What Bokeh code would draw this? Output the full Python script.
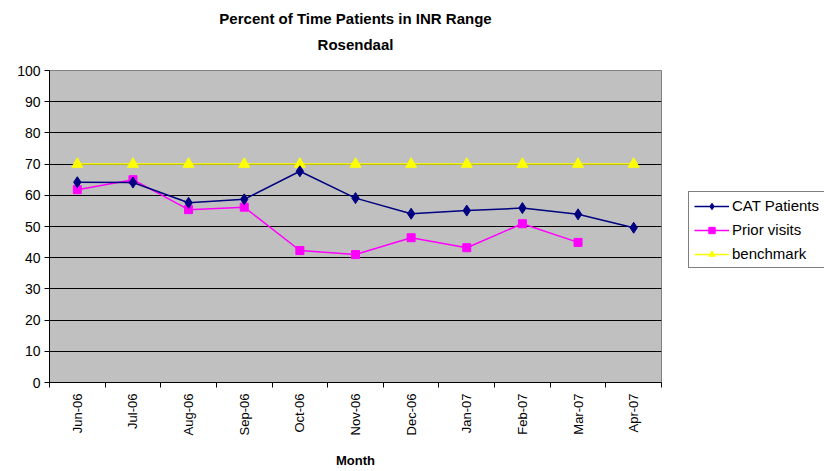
from bokeh.plotting import figure
from bokeh.models import (Range1d, FixedTicker, Legend, LegendItem, Title,
                          ColumnDataSource)
from bokeh.embed import file_html
from bokeh.resources import INLINE

months = ["Jun-06", "Jul-06", "Aug-06", "Sep-06", "Oct-06", "Nov-06",
          "Dec-06", "Jan-07", "Feb-07", "Mar-07", "Apr-07"]
cat_patients = [64.2, 64.1, 57.6, 58.7, 67.7, 59.1, 54.1, 55.1, 55.9, 53.9, 49.6]
prior_visits = [61.8, 65.0, 55.4, 56.2, 42.3, 41.0, 46.4, 43.2, 50.9, 44.9]
benchmark = [70, 70, 70, 70, 70, 70, 70, 70, 70, 70, 70]
y_ticks = [0, 10, 20, 30, 40, 50, 60, 70, 80, 90, 100]

FONT = "Liberation Sans"

xs = [i + 0.5 for i in range(len(months))]
bounds = [float(i) for i in range(len(months) + 1)]

p = figure(frame_width=612, frame_height=312, output_backend="svg",
           toolbar_location=None,
           x_range=Range1d(0, len(months)), y_range=Range1d(0, 100),
           min_border_left=49, min_border_right=163, min_border_top=70,
           min_border_bottom=89, title=None)

# spacer between frame and subtitle
p.add_layout(Title(text=" ", align="center", text_font=FONT,
                   text_font_size="14px", standoff=0), "above")
p.add_layout(Title(text="Rosendaal", align="center", text_font=FONT,
                   text_font_size="15px", text_font_style="bold",
                   text_color="black", standoff=0), "above")
p.add_layout(Title(text="Percent of Time Patients in INR Range", align="center",
                   text_font=FONT, text_font_size="15px", text_font_style="bold",
                   text_color="black", standoff=14), "above")

p.background_fill_color = "#C0C0C0"
p.border_fill_color = "white"
p.outline_line_color = "#808080"
p.outline_line_width = 1

# axes
p.xaxis.ticker = FixedTicker(ticks=xs, minor_ticks=bounds)
p.xaxis.major_label_overrides = {x: m for x, m in zip(xs, months)}
p.xaxis.major_label_orientation = 1.5708
p.xaxis.major_tick_line_color = None
p.xaxis.minor_tick_line_color = "black"
p.xaxis.minor_tick_in = 0
p.xaxis.minor_tick_out = 5
p.xaxis.axis_line_color = "black"
p.xaxis.major_label_text_font = FONT
p.xaxis.major_label_text_font_size = "13px"
p.xaxis.major_label_text_color = "black"
p.xaxis.major_label_standoff = 5
p.xaxis.axis_label = "Month"
p.xaxis.axis_label_text_font = FONT
p.xaxis.axis_label_text_font_size = "13px"
p.xaxis.axis_label_text_font_style = "bold"
p.xaxis.axis_label_text_color = "black"
p.xaxis.axis_label_standoff = 15

p.yaxis.ticker = FixedTicker(ticks=y_ticks)
p.yaxis.major_tick_in = 0
p.yaxis.major_tick_out = 5
p.yaxis.minor_tick_line_color = None
p.yaxis.axis_line_color = "black"
p.yaxis.major_label_text_font = FONT
p.yaxis.major_label_text_font_size = "14px"
p.yaxis.major_label_text_color = "black"
p.yaxis.major_label_standoff = 4

p.xgrid.grid_line_color = None
p.ygrid.grid_line_color = "black"
p.ygrid.grid_line_width = 1

# series
src_cat = ColumnDataSource(dict(x=xs, y=cat_patients))
src_pri = ColumnDataSource(dict(x=xs[:len(prior_visits)], y=prior_visits))
src_ben = ColumnDataSource(dict(x=xs, y=benchmark))

l_ben = p.line("x", "y", source=src_ben, line_color="#FFFF00", line_width=1.5)
m_ben = p.scatter("x", "y", source=src_ben, marker="triangle", size=11,
                  fill_color="#FFFF00", line_color="#FFFF00")
l_pri = p.line("x", "y", source=src_pri, line_color="#FF00FF", line_width=1.5)
m_pri = p.scatter("x", "y", source=src_pri, marker="square", size=8,
                  fill_color="#FF00FF", line_color="#FF00FF")
l_cat = p.line("x", "y", source=src_cat, line_color="#000080", line_width=1.5)
m_cat = p.scatter("x", "y", source=src_cat, marker="diamond", size=11,
                  fill_color="#000080", line_color="#000080")

legend = Legend(items=[
    LegendItem(label="CAT Patients", renderers=[l_cat, m_cat]),
    LegendItem(label="Prior visits", renderers=[l_pri, m_pri]),
    LegendItem(label="benchmark", renderers=[l_ben, m_ben]),
], location=(27, 114))
legend.label_text_font = FONT
legend.label_text_font_size = "15px"
legend.label_text_color = "black"
legend.border_line_color = "black"
legend.border_line_width = 1
legend.background_fill_color = "white"
legend.glyph_width = 35
legend.glyph_height = 16
legend.label_standoff = 3
legend.spacing = 7
legend.padding = 5
legend.margin = 0
p.add_layout(legend, "right")

open("out.html", "w").write(file_html(p, INLINE))
